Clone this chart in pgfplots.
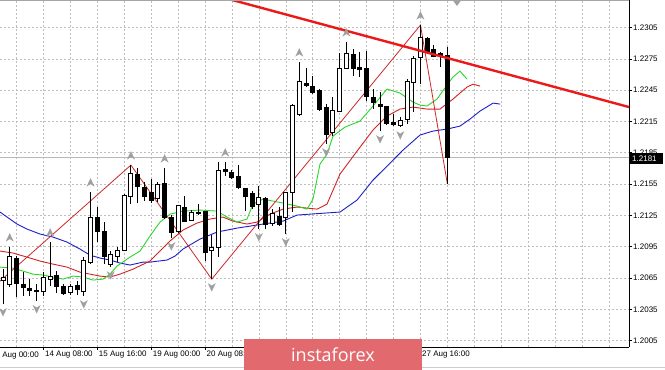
\documentclass[border=0pt]{standalone}
\usepackage{pgfplots}
\pgfplotsset{compat=1.18}
\usepackage{pgfplotstable}
\usepackage{fontspec}
\setmainfont{Liberation Sans}
\newfontfamily\wmfont{Open Sans}

\definecolor{jaw}{RGB}{30,30,200}
\definecolor{teeth}{RGB}{210,35,35}
\definecolor{lips}{RGB}{40,215,40}
\definecolor{zz}{RGB}{205,40,40}
\definecolor{trend}{RGB}{235,25,25}
\definecolor{frac}{RGB}{160,160,160}
\definecolor{gridc}{RGB}{190,190,190}
\definecolor{wm}{RGB}{226,106,110}

\pgfdeclareplotmark{fup}{%
  \pgfpathmoveto{\pgfpoint{0pt}{4.5pt}}%
  \pgfpathlineto{\pgfpoint{4pt}{-4pt}}%
  \pgfpathlineto{\pgfpoint{0pt}{-1.5pt}}%
  \pgfpathlineto{\pgfpoint{-4pt}{-4pt}}%
  \pgfpathclose\pgfusepathqfill}
\pgfdeclareplotmark{fdown}{%
  \pgfpathmoveto{\pgfpoint{0pt}{-4.5pt}}%
  \pgfpathlineto{\pgfpoint{4pt}{4pt}}%
  \pgfpathlineto{\pgfpoint{0pt}{1.5pt}}%
  \pgfpathlineto{\pgfpoint{-4pt}{4pt}}%
  \pgfpathclose\pgfusepathqfill}

% bullish candles
\pgfplotstableread{
i o h l c
0 1.20630 1.20735 1.20400 1.20659
1 1.20592 1.20946 1.20563 1.20860
6 1.20524 1.20706 1.20476 1.20659
7 1.20639 1.20994 1.20572 1.20668
10 1.20515 1.20592 1.20486 1.20572
12 1.20524 1.20850 1.20476 1.20822
13 1.20802 1.21473 1.20783 1.21234
16 1.20783 1.20908 1.20754 1.20879
17 1.20860 1.20946 1.20802 1.20917
18 1.20917 1.21454 1.20908 1.21445
19 1.21435 1.21732 1.21358 1.21655
23 1.21416 1.21569 1.21377 1.21550
26 1.21099 1.21349 1.21080 1.21349
28 1.21205 1.21301 1.21195 1.21282
31 1.20917 1.21061 1.20639 1.20946
32 1.20946 1.21761 1.20850 1.21684
38 1.21358 1.21531 1.21119 1.21425
40 1.21176 1.21310 1.21147 1.21272
42 1.21234 1.21473 1.21071 1.21473
43 1.21473 1.22317 1.21282 1.22307
44 1.22221 1.22719 1.22202 1.22537
49 1.22048 1.22384 1.22010 1.22259
50 1.22250 1.22806 1.22240 1.22662
51 1.22662 1.22911 1.22662 1.22806
59 1.22116 1.22192 1.22096 1.22163
60 1.22173 1.22556 1.22125 1.22537
61 1.22528 1.22777 1.22240 1.22758
62 1.22767 1.23074 1.22508 1.22959
}\bull

% bearish candles
\pgfplotstableread{
i o h l c
2 1.20841 1.20860 1.20467 1.20601
3 1.20592 1.20706 1.20476 1.20563
4 1.20553 1.20639 1.20476 1.20534
5 1.20534 1.20592 1.20429 1.20524
8 1.20678 1.20716 1.20505 1.20572
9 1.20572 1.20592 1.20486 1.20505
11 1.20582 1.20620 1.20486 1.20544
14 1.21234 1.21330 1.20994 1.21099
15 1.21099 1.21186 1.20783 1.20860
20 1.21646 1.21703 1.21368 1.21531
21 1.21521 1.21569 1.21387 1.21435
22 1.21473 1.21598 1.21368 1.21397
24 1.21560 1.21703 1.21215 1.21234
25 1.21234 1.21253 1.21032 1.21090
27 1.21330 1.21435 1.21186 1.21195
29 1.21282 1.21358 1.21253 1.21272
30 1.21291 1.21291 1.20812 1.20898
33 1.21694 1.21761 1.21627 1.21675
34 1.21665 1.21684 1.21598 1.21617
35 1.21627 1.21732 1.21502 1.21521
36 1.21512 1.21512 1.21291 1.21435
37 1.21464 1.21483 1.21310 1.21339
39 1.21416 1.21425 1.21119 1.21167
41 1.21243 1.21330 1.21147 1.21167
45 1.22518 1.22662 1.22480 1.22499
46 1.22489 1.22585 1.22413 1.22432
47 1.22451 1.22461 1.22250 1.22269
48 1.22288 1.22317 1.21933 1.22029
52 1.22796 1.22844 1.22585 1.22662
53 1.22671 1.22815 1.22576 1.22652
54 1.22662 1.22825 1.22346 1.22393
55 1.22384 1.22461 1.22269 1.22336
56 1.22317 1.22432 1.22058 1.22298
57 1.22298 1.22298 1.22116 1.22135
58 1.22144 1.22221 1.22106 1.22125
63 1.22949 1.22959 1.22806 1.22815
64 1.22844 1.22882 1.22767 1.22777
65 1.22806 1.22815 1.22671 1.22786
66 1.22786 1.22863 1.21550 1.21809
}\bear

% Alligator jaw (blue)
\pgfplotstableread{
i p
-0.45 1.21282
2.08 1.21167
3.56 1.21119
5.50 1.21071
7.43 1.21042
9.51 1.20994
11.44 1.20927
12.92 1.20869
14.41 1.20841
15.89 1.20822
17.38 1.20793
18.86 1.20774
20.79 1.20802
21.83 1.20802
24.36 1.20822
25.55 1.20860
26.73 1.20927
29.26 1.21023
31.78 1.21090
34.75 1.21128
36.68 1.21147
38.62 1.21167
41.59 1.21195
43.67 1.21253
45.60 1.21262
50.05 1.21282
52.58 1.21397
54.95 1.21588
57.48 1.21751
59.41 1.21876
61.93 1.22020
63.86 1.22058
65.94 1.22077
67.87 1.22106
69.36 1.22173
70.85 1.22250
72.78 1.22326
73.82 1.22317
}\jawt

% Alligator teeth (red)
\pgfplotstableread{
i p
-0.45 1.20908
1.49 1.20889
3.56 1.20850
5.50 1.20812
7.43 1.20783
9.51 1.20754
11.44 1.20706
12.92 1.20687
14.41 1.20668
15.89 1.20659
17.38 1.20687
19.31 1.20735
21.83 1.20812
23.32 1.20908
24.80 1.21004
26.73 1.21109
28.81 1.21176
30.74 1.21215
32.67 1.21234
34.16 1.21195
36.24 1.21167
37.72 1.21186
39.66 1.21262
41.59 1.21310
43.67 1.21330
46.64 1.21310
48.12 1.21358
50.05 1.21646
52.58 1.21866
54.95 1.22068
57.03 1.22202
58.96 1.22269
60.89 1.22288
62.97 1.22269
64.90 1.22269
66.83 1.22365
68.91 1.22480
69.81 1.22508
70.85 1.22489
}\teetht

% Alligator lips (green)
\pgfplotstableread{
i p
-0.45 1.20754
1.49 1.20745
2.97 1.20716
4.46 1.20687
5.94 1.20678
7.43 1.20659
8.91 1.20639
10.40 1.20668
11.88 1.20659
13.37 1.20630
14.85 1.20639
15.89 1.20687
16.93 1.20764
18.86 1.20850
20.35 1.20908
21.83 1.21052
23.32 1.21186
24.80 1.21262
26.73 1.21291
29.26 1.21301
31.78 1.21291
33.27 1.21234
34.75 1.21186
36.24 1.21215
37.13 1.21358
38.62 1.21406
41.59 1.21368
43.67 1.21339
45.15 1.21310
46.04 1.21406
47.08 1.21742
48.12 1.21837
49.01 1.22010
50.79 1.22096
53.02 1.22154
54.95 1.22298
57.03 1.22461
58.96 1.22422
60.89 1.22336
61.93 1.22307
62.97 1.22298
64.46 1.22365
65.94 1.22499
66.83 1.22576
67.87 1.22633
68.91 1.22556
}\lipst

% ZigZag
\pgfplotstableread{
i p
-2 1.20531
19 1.21732
31 1.20639
62 1.23074
66 1.21550
}\zigt

% Fractals
\pgfplotstableread{
i p
1 1.20946
7 1.20994
13 1.21473
19 1.21732
24 1.21703
33 1.21761
44 1.22719
51 1.22911
62 1.23074
}\fupt
\pgfplotstableread{
i p
0 1.20400
5 1.20429
12 1.20476
16 1.20754
25 1.21032
31 1.20639
38 1.21119
42 1.21071
48 1.21933
56 1.22058
59 1.22096
}\fdownt

% Trend line
\pgfplotstableread{
i p
30 1.23385
95 1.22253
}\trendt

\begin{document}
\begin{tikzpicture}[x=1pt,y=1pt]
\path[use as bounding box, fill=white] (0,0) rectangle (665,370);
\begin{axis}[
  at={(0,22)}, anchor=south west,
  scale only axis, width=629pt, height=347pt,
  xmin=-0.4456, xmax=92.97,
  ymin=1.19988, ymax=1.23314,
  axis x line*=bottom, axis y line*=right,
  axis line style={black, line width=0.8pt},
  tick align=outside, major tick length=3pt,
  xtick={2,6,...,90},
  xticklabels={,14 Aug 08:00,,15 Aug 16:00,,19 Aug 00:00,,20 Aug 08:00,,,,,,,,27 Aug 16:00},
  xtick style={draw=none},
  extra x ticks={6,14,...,62},
  extra x tick labels={},
  extra x tick style={grid=none, xtick style={draw=black, line width=0.6pt}},
  ytick={1.2005,1.2035,1.2065,1.2095,1.2125,1.2155,1.2185,1.2215,1.2245,1.2275,1.2305},
  ytick style={draw=black, line width=0.6pt},
  xmajorgrids, ymajorgrids,
  grid style={gridc, dash pattern=on 2pt off 2pt, line width=0.6pt},
  tick label style={font=\fontsize{8}{9.6}\selectfont, black},
  xticklabel style={anchor=north west, inner sep=0pt, xshift=1.5pt, yshift=-1pt},
  yticklabel style={anchor=west, inner sep=0pt, xshift=1pt,
    /pgf/number format/.cd, fixed, fixed zerofill, precision=4, assume math mode=true},
]
% bid line
\addplot[black!28, line width=0.8pt] coordinates {(-1,1.2181) (94,1.2181)};
% alligator
\addplot[jaw, line width=0.9pt] table[x=i,y=p] {\jawt};
\addplot[teeth, line width=0.9pt] table[x=i,y=p] {\teetht};
\addplot[lips, line width=0.9pt] table[x=i,y=p] {\lipst};
% zigzag
\addplot[zz, line width=0.8pt] table[x=i,y=p] {\zigt};
% fractals
\addplot[frac, only marks, mark=fup, mark options={yshift=9.5pt}] table[x=i,y=p] {\fupt};
\addplot[frac, only marks, mark=fdown, mark options={yshift=-8pt}] table[x=i,y=p] {\fdownt};
% wicks
\addplot[draw=none, mark=none, error bars/.cd, y dir=both, y explicit, error mark=none,
  error bar style={draw=black, line width=1pt}]
  table[x=i, y expr={(\thisrow{h}+\thisrow{l})/2}, y error expr={(\thisrow{h}-\thisrow{l})/2}] {\bull};
\addplot[draw=none, mark=none, error bars/.cd, y dir=both, y explicit, error mark=none,
  error bar style={draw=black, line width=1pt}]
  table[x=i, y expr={(\thisrow{h}+\thisrow{l})/2}, y error expr={(\thisrow{h}-\thisrow{l})/2}] {\bear};
% bodies
\addplot[draw=none, mark=none, error bars/.cd, y dir=both, y explicit, error mark=none,
  error bar style={draw=black, line width=5pt}]
  table[x=i, y expr={(\thisrow{o}+\thisrow{c})/2}, y error expr={abs(\thisrow{c}-\thisrow{o})/2+0.00005}] {\bear};
\addplot[draw=none, mark=none, error bars/.cd, y dir=both, y explicit, error mark=none,
  error bar style={draw=black, line width=5pt}]
  table[x=i, y expr={(\thisrow{o}+\thisrow{c})/2}, y error expr={abs(\thisrow{c}-\thisrow{o})/2+0.00005}] {\bull};
\addplot[draw=none, mark=none, error bars/.cd, y dir=both, y explicit, error mark=none,
  error bar style={draw=white, line width=3pt}]
  table[x=i, y expr={(\thisrow{o}+\thisrow{c})/2}, y error expr={max(abs(\thisrow{c}-\thisrow{o})/2-0.00005,0)}] {\bull};
% trend line
\addplot[trend, line width=2.4pt] table[x=i,y=p] {\trendt};
\end{axis}
% frame details
\draw[black!35, line width=0.8pt] (0,369.4) -- (629,369.4);
\fill[frac] (453,369.5) -- (461,369.5) -- (457,364) -- cycle;
\draw[black!20, line width=0.8pt] (0,2.5) -- (665,2.5);
% first (partly hidden) date label
\draw[black, line width=0.6pt] (-10.5,22) -- (-10.5,19);
\node[anchor=north west, inner sep=0pt, font=\fontsize{8}{9.6}\selectfont] at (-9,18) {13 Aug 00:00};
% bid price box
\fill[black] (630,206) rectangle (663,217);
\node[anchor=west, inner sep=0pt, text=white, font=\fontsize{8}{9.6}\selectfont] at (632,211.5) {1.2181};
% watermark
\fill[wm] (244,0) rectangle (422,31);
\node[text=white, font=\wmfont\fontsize{18}{20}\selectfont] at (333,15.5) {instaforex};
\end{tikzpicture}
\end{document}
